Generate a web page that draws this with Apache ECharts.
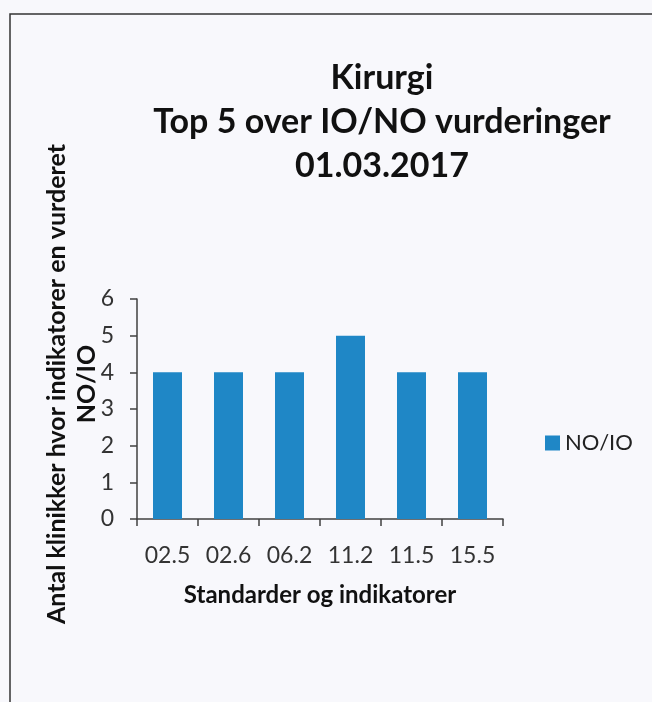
<!DOCTYPE html>
<html>
<head>
<meta charset="utf-8">
<style>
  html, body { margin: 0; padding: 0; background: #f8f8fc; }
  #chart { width: 652px; height: 702px; }
</style>
<script src="https://cdn.jsdelivr.net/npm/echarts@6/dist/echarts.min.js"></script>
</head>
<body>
<div id="chart"></div>
<script>
// data
const categories = ['02.5', '02.6', '06.2', '11.2', '11.5', '15.5'];
const seriesName = 'NO/IO';
const values = [4, 4, 4, 5, 4, 4];
const titleLines = ['Kirurgi', 'Top 5 over IO/NO vurderinger', '01.03.2017'];
const yNameLines = ['Antal klinikker hvor indikatorer en vurderet', 'NO/IO'];
const xName = 'Standarder og indikatorer';

const font = 'Lato, "Open Sans", sans-serif';
const chart = echarts.init(document.getElementById('chart'));

const option = {
  backgroundColor: '#f8f8fc',
  animation: false,
  grid: { left: 137, right: 149, top: 299, bottom: 183 },
  legend: {
    left: 540,
    top: 427,
    icon: 'rect',
    itemWidth: 15,
    itemHeight: 15,
    itemGap: 6,
    textStyle: { fontFamily: font, fontSize: 22, color: '#222' },
    data: [seriesName]
  },
  xAxis: {
    type: 'category',
    data: categories,
    name: xName,
    nameLocation: 'middle',
    nameGap: 64,
    nameTextStyle: { fontFamily: font, fontSize: 24, fontWeight: 'bold', color: '#111' },
    axisLine: { lineStyle: { color: '#404040', width: 1.5 } },
    axisTick: { show: true, length: 7, lineStyle: { color: '#404040', width: 1.5 } },
    axisLabel: { fontFamily: font, fontSize: 23, color: '#333', margin: 25 }
  },
  yAxis: {
    type: 'value',
    min: 0,
    max: 6,
    interval: 1,
    axisLine: { show: true, lineStyle: { color: '#404040', width: 1.5 } },
    axisTick: { show: true, length: 7, lineStyle: { color: '#404040', width: 1.5 } },
    axisLabel: { fontFamily: font, fontSize: 23, color: '#333', margin: 23 },
    splitLine: { show: false }
  },
  series: [{
    name: seriesName,
    type: 'bar',
    data: values,
    barWidth: 29,
    itemStyle: { color: '#1f87c6' }
  }],
  graphic: [
    {
      type: 'rect',
      shape: { x: 10, y: 14, width: 700, height: 740 },
      style: { fill: 'none', stroke: '#333', lineWidth: 1.5 },
      silent: true
    },
    {
      type: 'text',
      x: 382,
      y: 56,
      style: {
        text: titleLines.join('\n'),
        fontFamily: font,
        fontSize: 34,
        fontWeight: 'bold',
        lineHeight: 44,
        fill: '#111',
        textAlign: 'center',
        textVerticalAlign: 'top'
      }
    },
    {
      type: 'text',
      x: 57,
      y: 384,
      rotation: Math.PI / 2,
      style: {
        text: yNameLines[0],
        fontFamily: font,
        fontSize: 25,
        fontWeight: 'bold',
        fill: '#111',
        textAlign: 'center',
        textVerticalAlign: 'middle'
      }
    },
    {
      type: 'text',
      x: 87,
      y: 384,
      rotation: Math.PI / 2,
      style: {
        text: yNameLines[1],
        fontFamily: font,
        fontSize: 25,
        fontWeight: 'bold',
        fill: '#111',
        textAlign: 'center',
        textVerticalAlign: 'middle'
      }
    }
  ]
};

chart.setOption(option);
</script>
</body>
</html>
